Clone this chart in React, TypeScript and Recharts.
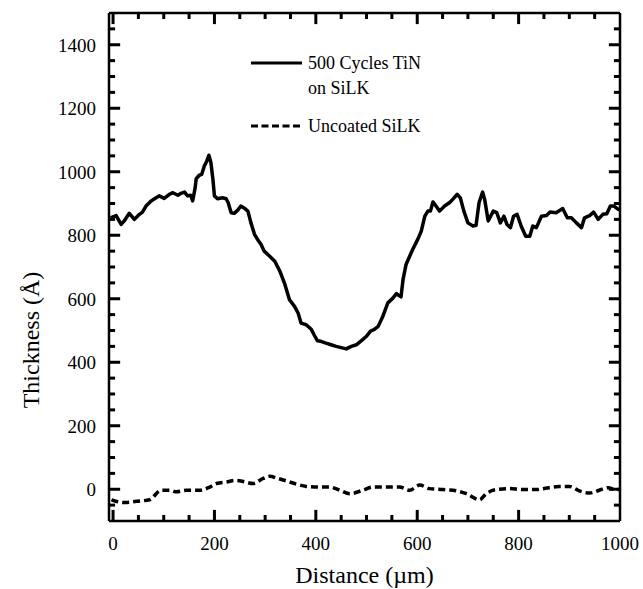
import { LineChart, Line, XAxis, YAxis, Legend } from "recharts";

// 500 cycles TiN on SiLK (solid)
const tinDistance = [
  -5, 6, 16, 22, 32, 42, 52, 58, 65, 75, 85, 91, 101, 111, 118, 128, 134, 141, 147, 153,
  157, 162, 164, 170, 175, 180, 185, 189, 193, 197, 200, 206, 216, 223, 227, 233, 239, 246,
  252, 260, 266, 272, 279, 285, 292, 298, 309, 319, 329, 339, 348, 358, 365, 371, 381, 391,
  397, 403, 410, 420, 430, 440, 450, 460, 470, 480, 490, 500, 508, 516, 523, 532, 542, 552,
  559, 564, 568, 572, 578, 584, 591, 601, 608, 615, 621, 626, 631, 637, 644, 654, 664, 670,
  679, 685, 692, 700, 710, 716, 722, 729, 733, 740, 750, 757, 764, 771, 777, 784, 790, 797,
  805, 814, 822, 828, 835, 845, 855, 862, 874, 887, 896, 904, 914, 924, 930, 940, 948, 957,
  966, 974, 981, 988, 996, 1000,
];
const tinThickness = [
  855, 862, 834, 845, 869, 850, 866, 873, 892, 908, 918, 924, 916, 929, 934, 926, 932, 936, 924, 926,
  908, 950, 978, 989, 992, 1018, 1034, 1052, 1029, 976, 924, 915, 918, 915, 903, 871, 869, 879,
  892, 884, 876, 839, 803, 787, 771, 750, 734, 718, 687, 645, 597, 576, 555, 523, 518, 504,
  485, 468, 466, 460, 455, 450, 446, 442, 450, 455, 468, 482, 498, 504, 513, 544, 587, 602,
  616, 610, 606, 660, 708, 730, 755, 787, 813, 860, 876, 876, 905, 892, 876, 892, 903, 913,
  929, 918, 876, 839, 829, 831, 903, 936, 913, 845, 876, 871, 839, 860, 834, 824, 860, 866,
  829, 797, 797, 829, 824, 860, 862, 873, 871, 884, 855, 855, 839, 824, 855, 862, 873, 850,
  866, 868, 892, 892, 882, 880,
];

// uncoated SiLK (dashed)
const silkDistance = [
  -3, 0, 23, 46, 72, 95, 112, 125, 145, 171, 191, 204, 224, 243, 260, 276, 296, 309, 325, 342,
  362, 381, 407, 427, 447, 467, 493, 513, 539, 565, 585, 605, 624, 651, 677, 697, 723, 736,
  756, 782, 808, 834, 860, 880, 900, 920, 940, 959, 977, 990, 1000,
];
const silkThickness = [
  -33, -35, -42, -38, -33, -3, -3, -8, -3, -3, 7, 18, 23, 28, 23, 18, 34, 41, 34, 26,
  16, 9, 7, 7, -3, -14, -3, 7, 7, 7, -3, 13, 2, -1, -5, -14, -33, -14,
  -1, 2, -1, -1, 5, 9, 9, -5, -12, -3, 5, -1, 0,
];

const xLabelTicks = [0, 200, 400, 600, 800, 1000];
const yLabelTicks = [0, 200, 400, 600, 800, 1000, 1200, 1400];
const xMarkTicks = [
  0, 50, 100, 150, 200, 250, 300, 350, 400, 450, 500, 550, 600, 650, 700, 750, 800, 850, 900, 950,
];
const yMarkTicks = [
  -50, 0, 50, 100, 150, 200, 250, 300, 350, 400, 450, 500, 550, 600, 650, 700, 750, 800, 850,
  900, 950, 1000, 1050, 1100, 1150, 1200, 1250, 1300, 1350, 1400, 1450,
];

const tinName = ["500 Cycles TiN", "on SiLK"];
const silkName = "Uncoated SiLK";

const tinData = tinDistance.map((d, i) => ({ d, t: tinThickness[i] }));
const silkData = silkDistance.map((d, i) => ({ d, t: silkThickness[i] }));

const FONT = "'Liberation Serif', 'DejaVu Serif', 'Times New Roman', serif";
const INK = "#000";
const X_MIN = -8;
const X_MAX = 1000;
const Y_MIN = -100;
const Y_MAX = 1500;
// tick mark lengths in data units (about 11px / 6px on screen)
const X_MAJOR_LEN = 22;
const X_MINOR_LEN = 12;
const Y_MAJOR_LEN = 35;
const Y_MINOR_LEN = 19;

const isMajor = (v: number) => v % 200 === 0;

// every tick mark is its own two-point segment, drawn through the chart scales
const tickMarks = [
  ...xMarkTicks.map((v) => {
    const len = isMajor(v) ? Y_MAJOR_LEN : Y_MINOR_LEN;
    return { id: `b${v}`, data: [{ d: v, t: Y_MIN }, { d: v, t: Y_MIN + len }] };
  }),
  ...xMarkTicks.map((v) => {
    const len = isMajor(v) ? Y_MAJOR_LEN : Y_MINOR_LEN;
    return { id: `t${v}`, data: [{ d: v, t: Y_MAX }, { d: v, t: Y_MAX - len }] };
  }),
  ...yMarkTicks.map((v) => {
    const len = isMajor(v) ? X_MAJOR_LEN : X_MINOR_LEN;
    return { id: `l${v}`, data: [{ d: X_MIN, t: v }, { d: X_MIN + len, t: v }] };
  }),
  ...yMarkTicks.map((v) => {
    const len = isMajor(v) ? X_MAJOR_LEN : X_MINOR_LEN;
    return { id: `r${v}`, data: [{ d: X_MAX - len, t: v }, { d: X_MAX, t: v }] };
  }),
];

const textStyle = { fontFamily: FONT, fontSize: 19, fill: INK };

const BottomLabel = (props: any) => (
  <text x={props.x} y={Number(props.y) + 29} textAnchor="middle" style={textStyle}>
    {props.payload.value}
  </text>
);

const LeftLabel = (props: any) => (
  <text x={Number(props.x) - 13} y={Number(props.y) + 7} textAnchor="end" style={textStyle}>
    {props.payload.value}
  </text>
);

const renderLegend = () => (
  <svg width={230} height={100} style={{ fontFamily: FONT }}>
    <line x1={6} y1={15} x2={57} y2={15} stroke={INK} strokeWidth={3} />
    <text x={63} y={21} style={{ fontFamily: FONT, fontSize: 18, fill: INK }}>{tinName[0]}</text>
    <text x={63} y={46} style={{ fontFamily: FONT, fontSize: 18, fill: INK }}>{tinName[1]}</text>
    <line x1={6} y1={78} x2={57} y2={78} stroke={INK} strokeWidth={3} strokeDasharray="7 3.5" />
    <text x={63} y={84} style={{ fontFamily: FONT, fontSize: 18, fill: INK }}>{silkName}</text>
  </svg>
);

export default function App() {
  return (
    <div style={{ position: "absolute", left: 0, top: 0, width: 643, height: 589, background: "#fff" }}>
      <LineChart width={643} height={589} margin={{ top: 12, right: 22, bottom: 67, left: 108 }}>
        <XAxis
          xAxisId="bottom"
          dataKey="d"
          type="number"
          domain={[X_MIN, X_MAX]}
          ticks={xLabelTicks}
          interval={0}
          height={1}
          tickSize={0}
          tickMargin={0}
          tickLine={false}
          tick={BottomLabel}
          axisLine={{ stroke: INK, strokeWidth: 2.5 }}
          allowDataOverflow
          label={{
            content: (p: any) => {
              const vb = p.viewBox;
              return (
                <text x={vb.x + vb.width / 2} y={vb.y + 62} textAnchor="middle" style={{ fontFamily: FONT, fontSize: 24, fill: INK }}>
                  Distance (µm)
                </text>
              );
            },
          }}
        />
        <XAxis
          xAxisId="top"
          orientation="top"
          type="number"
          domain={[X_MIN, X_MAX]}
          ticks={[]}
          height={1}
          tickLine={false}
          tick={false}
          axisLine={{ stroke: INK, strokeWidth: 2.5 }}
          allowDataOverflow
        />
        <YAxis
          yAxisId="left"
          dataKey="t"
          type="number"
          domain={[Y_MIN, Y_MAX]}
          ticks={yLabelTicks}
          interval={0}
          width={1}
          tickSize={0}
          tickMargin={0}
          tickLine={false}
          tick={LeftLabel}
          axisLine={{ stroke: INK, strokeWidth: 2.5 }}
          allowDataOverflow
          label={{
            content: (p: any) => {
              const vb = p.viewBox;
              const cx = vb.x + vb.width - 76;
              const cy = vb.y + vb.height / 2 + 73;
              return (
                <text
                  x={cx}
                  y={cy}
                  transform={`rotate(-90 ${cx} ${cy})`}
                  textAnchor="middle"
                  dominantBaseline="middle"
                  style={{ fontFamily: FONT, fontSize: 24, fill: INK }}
                >
                  Thickness (Å)
                </text>
              );
            },
          }}
        />
        <YAxis
          yAxisId="right"
          orientation="right"
          type="number"
          domain={[Y_MIN, Y_MAX]}
          ticks={[]}
          width={1}
          tickLine={false}
          tick={false}
          axisLine={{ stroke: INK, strokeWidth: 2.5 }}
          allowDataOverflow
        />

        {tickMarks.map((m) => (
          <Line
            key={m.id}
            name={m.id}
            xAxisId="bottom"
            yAxisId="left"
            data={m.data}
            dataKey="t"
            type="linear"
            stroke={INK}
            strokeWidth={3}
            dot={false}
            activeDot={false}
            legendType="none"
            isAnimationActive={false}
          />
        ))}

        <Legend
          verticalAlign="middle"
          align="center"
          layout="horizontal"
          content={renderLegend}
          wrapperStyle={{ left: 245, top: 48, width: 230, height: 100 }}
        />
        <Line
          xAxisId="bottom"
          yAxisId="left"
          data={tinData}
          dataKey="t"
          name={tinName.join(" ")}
          type="linear"
          stroke={INK}
          strokeWidth={3.5}
          strokeLinejoin="round"
          dot={false}
          activeDot={false}
          isAnimationActive={false}
        />
        <Line
          xAxisId="bottom"
          yAxisId="left"
          data={silkData}
          dataKey="t"
          name={silkName}
          type="monotone"
          stroke={INK}
          strokeWidth={3.5}
          strokeDasharray="7 4"
          dot={false}
          activeDot={false}
          isAnimationActive={false}
        />
      </LineChart>
    </div>
  );
}
